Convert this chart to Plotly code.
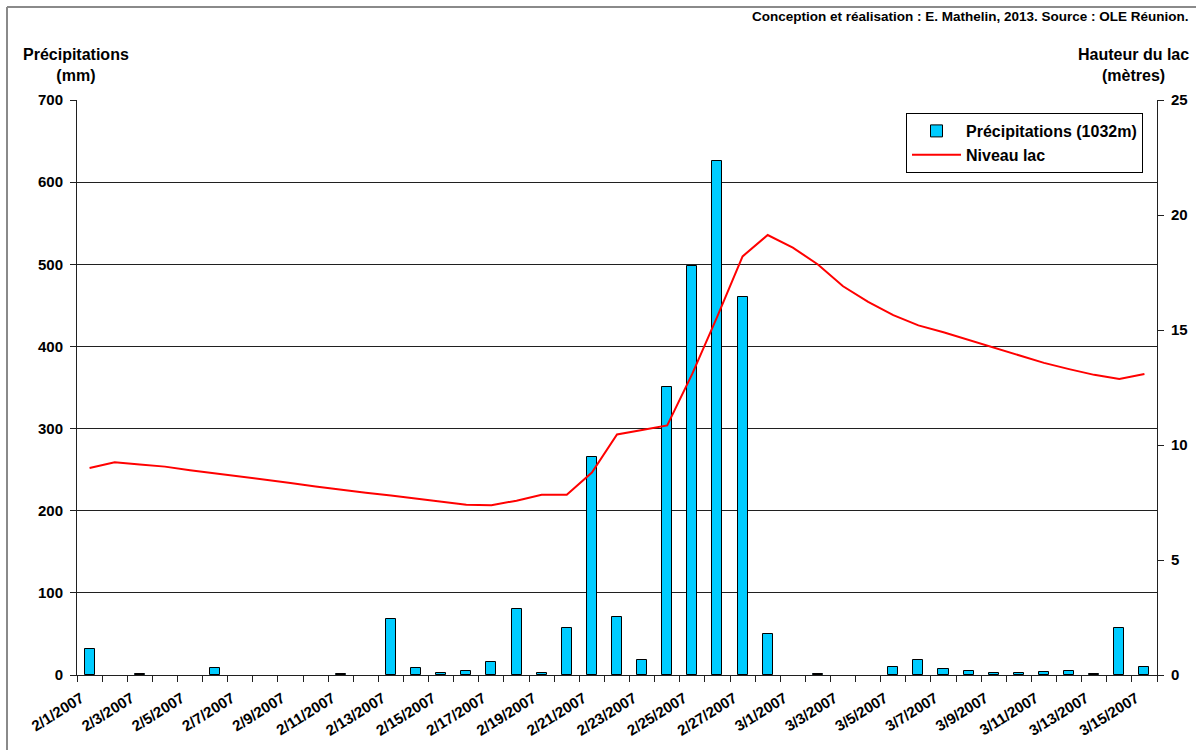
import pandas as pd
import plotly.graph_objects as go

# Daily dates, February 1 to March 15, 2007
DATES = [
    "2/1/2007", "2/2/2007", "2/3/2007", "2/4/2007", "2/5/2007", "2/6/2007", "2/7/2007",
    "2/8/2007", "2/9/2007", "2/10/2007", "2/11/2007", "2/12/2007", "2/13/2007", "2/14/2007",
    "2/15/2007", "2/16/2007", "2/17/2007", "2/18/2007", "2/19/2007", "2/20/2007", "2/21/2007",
    "2/22/2007", "2/23/2007", "2/24/2007", "2/25/2007", "2/26/2007", "2/27/2007", "2/28/2007",
    "3/1/2007", "3/2/2007", "3/3/2007", "3/4/2007", "3/5/2007", "3/6/2007", "3/7/2007",
    "3/8/2007", "3/9/2007", "3/10/2007", "3/11/2007", "3/12/2007", "3/13/2007", "3/14/2007",
    "3/15/2007",
]

# Daily rainfall at the 1032 m station (mm)
PRECIP_MM = [
    32, 0, 1, 0, 0, 8, 0, 0, 0, 0, 1, 0, 68, 8, 3,
    5, 16, 80, 3, 57, 265, 71, 18, 351, 498, 626, 460, 50, 0, 1,
    0, 0, 10, 18, 7, 5, 2, 2, 4, 5, 1, 57, 10,
]

# Lake level (metres)
LAKE_M = [
    9.0, 9.25, 9.15, 9.06, 8.9, 8.77, 8.62, 8.48, 8.35, 8.2, 8.05, 7.92, 7.8, 7.66, 7.54,
    7.4, 7.38, 7.58, 7.84, 7.84, 8.8, 10.46, 10.65, 10.85, 13.1, 15.6, 18.2, 19.13, 18.58, 17.85,
    16.9, 16.22, 15.65, 15.2, 14.9, 14.57, 14.22, 13.88, 13.57, 13.3, 13.05, 12.87, 13.09,
]

LEFT_TICKS = [0, 100, 200, 300, 400, 500, 600, 700]
RIGHT_TICKS = [0, 5, 10, 15, 20, 25]

W, H = 1196, 750
L, R, T, B = 77, 39, 100, 75
PW, PH = W - L - R, H - T - B

FONT = "Liberation Sans, Arial, sans-serif"
AXIS_COLOR = "#202020"

x = pd.to_datetime(DATES, format="%m/%d/%Y")
half_day = pd.Timedelta(hours=12)
day_ms = 86400000
boundaries = list(x - half_day) + [x[-1] + half_day]
# slanted date labels sit with their end a little before the day centre
label_pos = list(x[::2] - pd.Timedelta(hours=8))

# dry days get no bar at all
rain_bars = [v if v > 0 else None for v in PRECIP_MM]


def px(xp):
    return (xp - L) / PW


def py(yp):
    return (H - B - yp) / PH


fig = go.Figure()

fig.add_trace(go.Bar(
    x=x, y=rain_bars, name="Précipitations (1032m)",
    width=0.4 * day_ms,
    marker=dict(color="#00CCFF", line=dict(color="#000000", width=1)),
    yaxis="y",
))

fig.add_trace(go.Scatter(
    x=x, y=LAKE_M, name="Niveau lac", mode="lines",
    line=dict(color="#FF0000", width=2),
    yaxis="y2",
))

tick_font = dict(family=FONT, size=15, weight="bold")

fig.update_layout(
    width=W, height=H,
    margin=dict(l=L, r=R, t=T, b=B, pad=0, autoexpand=False),
    paper_bgcolor="white", plot_bgcolor="white",
    font=dict(family=FONT, color="black", size=14),
    bargap=0,
    xaxis=dict(
        type="date", automargin=False,
        range=[x[0] - half_day, x[-1] + half_day],
        tickmode="array",
        tickvals=label_pos,
        ticktext=DATES[::2],
        tickangle=-32,
        ticks="outside", ticklen=8, tickcolor="rgba(0,0,0,0)",
        tickfont=tick_font,
        minor=dict(tickmode="array", tickvals=boundaries, ticks="outside",
                   ticklen=6, tickwidth=1, tickcolor=AXIS_COLOR, showgrid=False),
        showgrid=False, zeroline=False,
        showline=True, linecolor=AXIS_COLOR, linewidth=1,
    ),
    yaxis=dict(
        range=[0, 700], tickmode="array", tickvals=LEFT_TICKS, automargin=False,
        ticks="outside", ticklen=6, tickcolor=AXIS_COLOR,
        ticklabelstandoff=4,
        tickfont=tick_font,
        showgrid=True, gridcolor=AXIS_COLOR, gridwidth=1,
        zeroline=False, showline=True, linecolor=AXIS_COLOR, linewidth=1,
    ),
    yaxis2=dict(
        range=[0, 25], tickmode="array", tickvals=RIGHT_TICKS, automargin=False,
        overlaying="y", side="right",
        ticks="outside", ticklen=6, tickcolor=AXIS_COLOR,
        ticklabelstandoff=4,
        tickfont=tick_font,
        showgrid=False, zeroline=False,
        showline=True, linecolor=AXIS_COLOR, linewidth=1,
    ),
    legend=dict(
        x=px(906), y=py(113), xanchor="left", yanchor="top",
        bgcolor="white", bordercolor="black", borderwidth=1,
        font=dict(family=FONT, size=16, weight="bold"),
        itemwidth=49, traceorder="normal",
    ),
    showlegend=True,
)

# Outer frame of the figure
fig.add_shape(type="line", xref="paper", yref="paper",
              x0=px(7), x1=px(7), y0=py(7), y1=py(760),
              line=dict(color="#8a8a8a", width=2))
fig.add_shape(type="line", xref="paper", yref="paper",
              x0=px(7), x1=px(1200), y0=py(7), y1=py(7),
              line=dict(color="#8a8a8a", width=2))

fig.add_annotation(
    text="<b>Conception et réalisation : E. Mathelin, 2013. Source : OLE Réunion.</b>",
    xref="paper", yref="paper", x=px(1191), y=py(16),
    xanchor="right", yanchor="middle", showarrow=False,
    font=dict(family=FONT, size=13.5, color="black"),
)
fig.add_annotation(
    text="<b>Précipitations<br>(mm)</b>",
    xref="paper", yref="paper", x=px(76), y=py(65),
    xanchor="center", yanchor="middle", align="center", showarrow=False,
    font=dict(family=FONT, size=16, color="black"),
)
fig.add_annotation(
    text="<b>Hauteur du lac<br>(mètres)</b>",
    xref="paper", yref="paper", x=px(1133), y=py(65),
    xanchor="center", yanchor="middle", align="center", showarrow=False,
    font=dict(family=FONT, size=16, color="black"),
)

fig.write_html("out.html")
